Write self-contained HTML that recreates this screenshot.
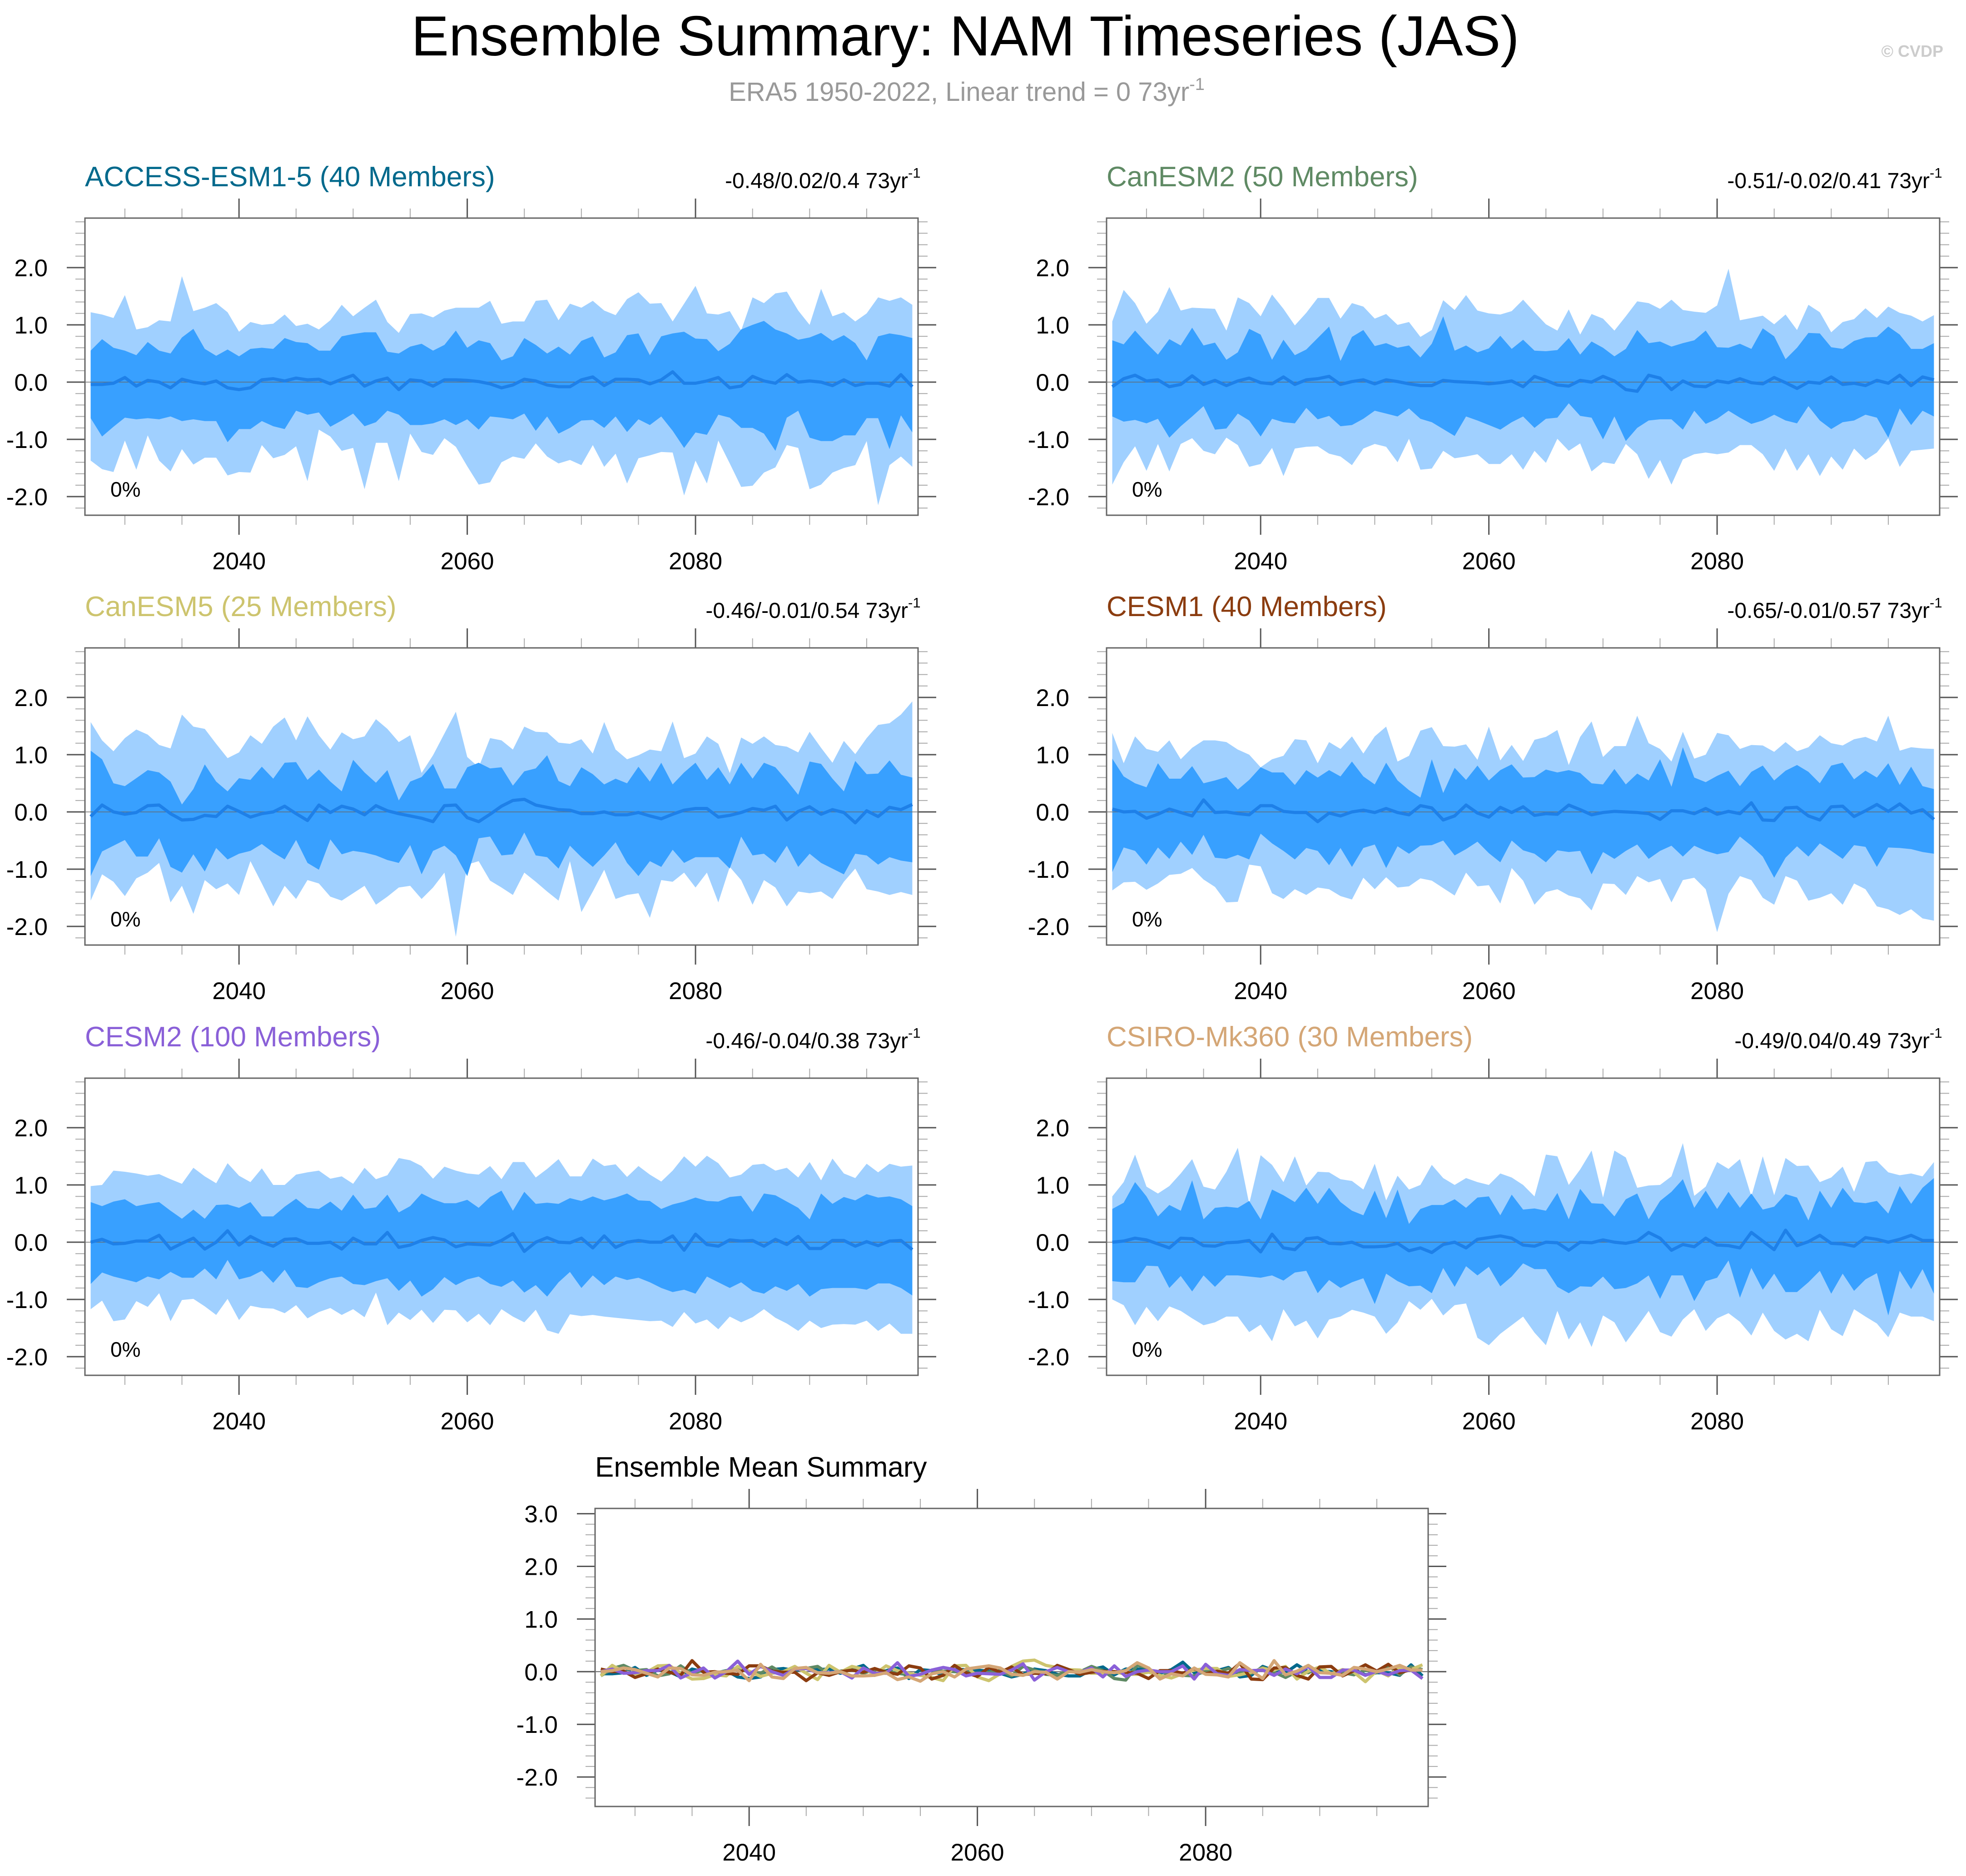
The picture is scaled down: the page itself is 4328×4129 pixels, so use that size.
<!DOCTYPE html>
<html><head><meta charset="utf-8"><title>Ensemble Summary: NAM Timeseries (JAS)</title>
<style>html,body{margin:0;padding:0;background:#fff}svg{display:block}text{font-family:"Liberation Sans",Arial,sans-serif}</style>
</head><body>
<svg id="fig" xmlns="http://www.w3.org/2000/svg" width="4328" height="4129" viewBox="0 0 4328 4129">
<rect width="4328" height="4129" fill="#fff"/>
<text x="2125" y="122" font-size="124" text-anchor="middle" fill="#000">Ensemble Summary: NAM Timeseries (JAS)</text>
<text x="2128" y="222" font-size="58" text-anchor="middle" fill="#999">ERA5 1950-2022, Linear trend = 0 73yr<tspan dy="-24" font-size="38">-1</tspan></text>
<text x="4278" y="125" font-size="36" font-weight="bold" text-anchor="end" fill="#ccc">© CVDP</text>
<g id="panels"></g>
</svg>
<script>
const yearStart = 2027;
const xTickLabels = ["2040","2060","2080"];
const yTickLabels = ["-2.0","-1.0","0.0","1.0","2.0"];
const yTickLabelsMean = ["-2.0","-1.0","0.0","1.0","2.0","3.0"];

const access_hi = [1.22,1.18,1.12,1.52,0.92,0.96,1.08,1.06,1.85,1.24,1.30,1.38,1.22,0.88,1.05,1.00,1.02,1.18,0.98,1.02,0.92,1.08,1.35,1.15,1.30,1.44,1.05,0.86,1.19,1.20,1.13,1.25,1.30,1.30,1.30,1.42,1.02,1.06,1.06,1.42,1.44,1.08,1.37,1.30,1.42,1.25,1.17,1.45,1.57,1.37,1.38,1.06,1.37,1.68,1.20,1.18,1.24,0.90,1.48,1.38,1.55,1.58,1.25,1.00,1.63,1.15,1.22,1.06,1.20,1.48,1.42,1.48,1.35];
const access_uq = [0.55,0.75,0.60,0.55,0.47,0.70,0.55,0.50,0.78,0.93,0.58,0.46,0.57,0.45,0.58,0.60,0.58,0.77,0.70,0.68,0.55,0.55,0.80,0.84,0.87,0.87,0.53,0.50,0.62,0.67,0.55,0.65,0.90,0.60,0.73,0.68,0.38,0.45,0.77,0.65,0.50,0.62,0.48,0.72,0.80,0.43,0.52,0.82,0.85,0.47,0.80,0.85,0.88,0.76,0.75,0.54,0.67,0.92,1.00,1.07,0.92,0.85,0.74,0.78,0.86,0.72,0.82,0.68,0.38,0.80,0.85,0.82,0.77];
const access_mean = [-0.04,-0.04,-0.02,0.08,-0.07,0.03,0.00,-0.10,0.05,0.00,-0.03,0.02,-0.10,-0.13,-0.10,0.04,0.06,0.02,0.07,0.04,0.05,-0.03,0.05,0.12,-0.07,0.02,0.07,-0.13,0.04,0.02,-0.07,0.04,0.04,0.03,0.01,-0.03,-0.10,-0.05,0.05,0.02,-0.05,-0.08,-0.08,0.04,0.09,-0.06,0.05,0.05,0.04,-0.03,0.04,0.18,-0.02,-0.02,0.02,0.08,-0.10,-0.07,0.10,0.02,-0.02,0.13,0.00,0.02,0.00,-0.06,0.04,-0.06,-0.02,-0.02,-0.07,0.13,-0.08];
const access_lq = [-0.63,-0.95,-0.78,-0.62,-0.65,-0.63,-0.65,-0.60,-0.68,-0.65,-0.68,-0.68,-1.05,-0.82,-0.82,-0.68,-0.77,-0.82,-0.50,-0.57,-0.53,-0.78,-0.67,-0.55,-0.77,-0.70,-0.50,-0.57,-0.75,-0.75,-0.72,-0.65,-0.75,-0.65,-0.83,-0.60,-0.62,-0.65,-0.55,-0.85,-0.60,-0.90,-0.80,-0.67,-0.66,-0.80,-0.60,-0.87,-0.65,-0.75,-0.60,-0.85,-1.15,-0.88,-0.92,-0.57,-0.62,-0.80,-0.80,-0.90,-1.20,-0.62,-0.50,-0.97,-1.03,-1.03,-0.93,-0.93,-0.63,-0.63,-1.17,-0.58,-0.88];
const access_lo = [-1.37,-1.52,-1.57,-1.02,-1.53,-0.93,-1.37,-1.56,-1.17,-1.44,-1.32,-1.32,-1.63,-1.57,-1.58,-1.10,-1.33,-1.27,-1.12,-1.73,-0.83,-0.95,-1.20,-1.15,-1.87,-1.06,-1.06,-1.73,-0.90,-1.22,-1.27,-0.98,-1.13,-1.47,-1.79,-1.75,-1.40,-1.30,-1.34,-1.07,-1.30,-1.42,-1.36,-1.45,-1.10,-1.48,-1.25,-1.77,-1.33,-1.28,-1.22,-1.23,-1.98,-1.37,-1.77,-1.02,-1.42,-1.83,-1.81,-1.58,-1.49,-1.10,-1.15,-1.87,-1.79,-1.58,-1.50,-1.45,-1.03,-2.15,-1.45,-1.30,-1.48];

const canesm2_hi = [1.06,1.61,1.38,1.02,1.23,1.66,1.25,1.30,1.29,1.28,0.90,1.48,1.38,1.15,1.53,1.28,0.99,1.21,1.47,1.47,1.11,1.38,1.32,1.11,1.19,1.00,1.05,0.79,0.91,1.43,1.26,1.52,1.25,1.20,1.18,1.24,1.44,1.22,1.01,0.90,1.27,0.83,1.19,1.11,0.90,1.15,1.41,1.38,1.28,1.44,1.26,1.23,1.21,1.34,1.98,1.08,1.12,1.16,1.01,1.18,0.91,1.35,1.22,0.87,1.05,1.10,1.29,1.12,1.32,1.21,1.16,1.06,1.17];
const canesm2_uq = [0.73,0.66,0.90,0.68,0.48,0.75,0.64,0.95,0.64,0.69,0.39,0.52,0.93,0.83,0.39,0.74,0.47,0.57,0.77,0.97,0.37,0.79,0.91,0.63,0.68,0.60,0.64,0.43,0.67,1.15,0.55,0.64,0.52,0.59,0.81,0.58,0.74,0.55,0.54,0.56,0.77,0.48,0.71,0.60,0.45,0.58,0.91,0.68,0.71,0.62,0.68,0.73,0.90,0.61,0.60,0.67,0.58,0.94,0.80,0.40,0.60,0.86,0.85,0.61,0.58,0.72,0.78,0.79,0.97,0.83,0.58,0.58,0.68];
const canesm2_mean = [-0.08,0.06,0.12,0.02,0.04,-0.08,-0.04,0.11,-0.04,0.03,-0.06,0.02,0.07,-0.01,-0.03,0.09,-0.04,0.04,0.06,0.10,-0.04,0.01,0.04,-0.03,0.04,0.01,-0.03,-0.06,-0.06,0.03,0.01,0.00,-0.01,-0.03,-0.01,0.02,-0.08,0.10,0.03,-0.05,-0.07,0.03,0.00,0.10,0.02,-0.13,-0.16,0.12,0.07,-0.13,0.02,-0.07,-0.08,0.02,-0.01,0.06,-0.01,-0.03,0.08,-0.01,-0.11,0.00,-0.02,0.09,-0.04,-0.02,-0.06,0.03,-0.02,0.12,-0.06,0.09,0.04];
const canesm2_lq = [-0.60,-0.69,-0.66,-0.72,-0.64,-0.97,-0.77,-0.60,-0.42,-0.83,-0.81,-0.55,-0.67,-0.95,-0.64,-0.70,-0.72,-0.45,-0.65,-0.59,-0.77,-0.75,-0.64,-0.50,-0.55,-0.60,-0.46,-0.64,-0.70,-0.82,-0.94,-0.60,-0.67,-0.75,-0.83,-0.70,-0.60,-0.80,-0.64,-0.62,-0.37,-0.59,-0.62,-1.00,-0.60,-1.03,-0.80,-0.67,-0.65,-0.65,-0.83,-0.50,-0.73,-0.64,-0.50,-0.62,-0.73,-0.67,-0.57,-0.67,-0.72,-0.42,-0.67,-0.82,-0.70,-0.67,-0.57,-0.62,-0.97,-0.46,-0.75,-0.50,-0.60];
const canesm2_lo = [-1.79,-1.40,-1.12,-1.55,-1.08,-1.56,-1.08,-0.98,-1.20,-1.26,-0.97,-1.10,-1.48,-1.43,-1.15,-1.64,-1.16,-1.13,-1.12,-1.25,-1.30,-1.45,-1.16,-1.08,-1.13,-1.40,-0.99,-1.53,-1.51,-1.20,-1.33,-1.30,-1.26,-1.43,-1.43,-1.26,-1.53,-1.20,-1.41,-0.99,-1.20,-1.07,-1.56,-1.40,-1.43,-1.08,-1.26,-1.69,-1.36,-1.79,-1.35,-1.26,-1.23,-1.26,-1.23,-1.10,-1.10,-1.26,-1.55,-1.16,-1.55,-1.26,-1.64,-1.30,-1.53,-1.16,-1.36,-1.23,-0.98,-1.48,-1.20,-1.18,-1.16];

const canesm5_hi = [1.57,1.25,1.06,1.29,1.44,1.35,1.17,1.11,1.70,1.49,1.45,1.19,0.94,1.04,1.34,1.19,1.49,1.65,1.25,1.67,1.34,1.09,1.39,1.27,1.32,1.62,1.45,1.22,1.34,0.68,0.99,1.37,1.75,0.96,0.78,1.29,1.25,1.09,1.49,1.40,1.39,1.21,1.19,1.27,1.02,1.57,1.09,0.92,0.99,1.09,1.06,1.58,0.94,1.02,1.32,1.19,0.68,1.30,1.19,1.32,1.17,1.14,1.04,1.40,1.12,0.86,1.24,1.01,1.29,1.52,1.55,1.70,1.93];
const canesm5_uq = [1.07,0.92,0.50,0.45,0.59,0.73,0.69,0.53,0.13,0.40,0.83,0.53,0.36,0.59,0.56,0.79,0.58,0.86,0.87,0.56,0.74,0.53,0.36,0.91,0.69,0.51,0.73,0.20,0.53,0.61,0.84,0.41,0.41,0.78,0.86,0.76,0.78,0.46,0.71,0.76,0.99,0.54,0.45,0.78,0.66,0.48,0.58,0.50,0.79,0.53,0.86,0.48,0.69,0.86,0.56,0.78,0.48,0.86,0.58,0.86,0.78,0.55,0.30,0.88,0.84,0.58,0.36,0.89,0.66,0.67,0.90,0.65,0.60];
const canesm5_mean = [-0.08,0.12,0.00,-0.04,-0.01,0.11,0.12,-0.03,-0.14,-0.13,-0.06,-0.08,0.10,0.01,-0.09,-0.03,0.00,0.10,-0.03,-0.15,0.12,-0.01,0.10,0.05,-0.05,0.11,0.02,-0.03,-0.07,-0.11,-0.17,0.11,0.12,-0.10,-0.17,-0.04,0.10,0.20,0.22,0.12,0.08,0.04,0.03,-0.03,-0.03,0.00,-0.05,-0.05,-0.01,-0.07,-0.12,-0.04,0.03,0.06,0.06,-0.09,-0.06,-0.01,0.06,0.03,0.10,-0.14,0.01,0.09,-0.04,0.04,-0.01,-0.19,0.02,-0.08,0.08,0.04,0.13];
const canesm5_lq = [-1.12,-0.69,-0.59,-0.49,-0.78,-0.78,-0.46,-0.96,-1.06,-0.74,-1.04,-0.63,-0.83,-0.73,-0.68,-0.56,-0.71,-0.83,-0.49,-0.89,-1.01,-0.48,-0.74,-0.68,-0.71,-0.76,-0.84,-0.89,-0.58,-1.09,-0.68,-0.59,-0.76,-1.12,-0.46,-0.43,-0.76,-0.74,-0.36,-0.76,-0.79,-0.99,-0.59,-0.79,-0.96,-0.76,-0.53,-0.89,-1.12,-0.86,-0.96,-0.66,-0.89,-0.79,-0.79,-0.79,-0.99,-0.43,-0.76,-0.73,-0.89,-0.59,-0.96,-0.73,-0.89,-0.99,-1.09,-0.73,-0.76,-0.92,-0.79,-0.85,-0.88];
const canesm5_lo = [-1.55,-1.09,-1.22,-1.47,-1.16,-1.06,-0.89,-1.58,-1.29,-1.78,-1.19,-1.35,-1.25,-1.45,-0.86,-1.25,-1.65,-1.29,-1.52,-1.19,-1.25,-1.48,-1.55,-1.42,-1.29,-1.62,-1.48,-1.32,-1.29,-1.52,-1.32,-1.06,-2.18,-0.92,-0.86,-1.20,-1.32,-1.45,-1.06,-1.22,-1.39,-1.55,-0.86,-1.75,-1.39,-1.01,-1.52,-1.45,-1.42,-1.85,-1.19,-1.22,-1.06,-1.32,-1.06,-1.58,-0.96,-1.19,-1.62,-1.19,-1.32,-1.65,-1.39,-1.42,-1.39,-1.52,-1.22,-0.99,-1.35,-1.39,-1.45,-1.40,-1.45];

const cesm1_hi = [1.38,0.85,1.32,1.10,1.05,1.25,0.92,1.12,1.25,1.25,1.22,1.09,1.00,0.78,0.92,0.98,1.27,1.25,0.85,1.22,1.10,1.32,1.02,1.32,1.49,0.88,0.98,1.42,1.48,1.15,1.14,1.18,0.91,1.49,0.90,1.17,0.89,1.26,1.31,1.43,0.82,1.31,1.58,0.96,1.15,1.15,1.68,1.20,1.10,0.88,1.40,0.93,1.00,1.38,1.34,1.10,1.17,1.16,1.05,1.22,1.06,1.13,1.34,1.20,1.16,1.27,1.31,1.23,1.68,1.07,1.13,1.11,1.10];
const cesm1_uq = [0.93,0.62,0.50,0.43,0.85,0.58,0.58,0.80,0.50,0.55,0.61,0.39,0.56,0.78,0.69,0.69,0.47,0.73,0.60,0.73,0.62,0.88,0.62,0.48,0.86,0.55,0.38,0.25,0.92,0.33,0.77,0.56,0.81,0.55,0.73,0.83,0.60,0.61,0.74,0.69,0.73,0.68,0.50,0.48,0.75,0.48,0.67,0.55,0.92,0.44,1.13,0.60,0.52,0.63,0.72,0.45,0.70,0.81,0.55,0.72,0.82,0.70,0.50,0.81,0.86,0.57,0.72,0.60,0.85,0.47,0.79,0.45,0.40];
const cesm1_mean = [0.05,0.00,0.01,-0.11,-0.04,0.05,-0.01,-0.07,0.21,-0.01,0.00,-0.03,-0.05,0.11,0.11,0.01,-0.01,-0.01,-0.17,-0.02,-0.07,0.00,0.03,-0.01,0.06,-0.01,-0.05,0.11,0.07,-0.14,-0.07,0.12,-0.02,-0.09,0.08,-0.01,0.09,-0.06,-0.03,-0.04,0.12,0.04,-0.05,-0.01,0.01,0.00,-0.01,-0.03,-0.13,0.02,0.02,-0.03,0.06,-0.04,0.01,-0.03,0.16,-0.14,-0.15,0.07,0.08,-0.07,-0.14,0.09,0.10,-0.08,0.02,0.13,0.01,0.14,-0.02,0.04,-0.13];
const cesm1_lq = [-1.05,-0.62,-0.68,-0.92,-0.62,-0.82,-0.52,-0.75,-0.40,-0.80,-0.82,-0.75,-0.83,-0.38,-0.55,-0.68,-0.83,-0.63,-0.68,-0.93,-0.63,-0.96,-0.63,-0.57,-0.98,-0.60,-0.73,-0.59,-0.58,-0.50,-0.76,-0.65,-0.52,-0.72,-0.88,-0.50,-0.67,-0.73,-0.88,-0.67,-0.70,-0.68,-1.09,-0.70,-0.82,-0.68,-0.57,-0.82,-0.68,-0.59,-0.78,-0.59,-0.68,-0.74,-0.70,-0.43,-0.59,-0.78,-1.15,-0.80,-0.60,-0.78,-0.55,-0.68,-0.82,-0.58,-0.61,-0.96,-0.62,-0.63,-0.65,-0.70,-0.73];
const cesm1_lo = [-1.37,-1.23,-1.22,-1.36,-1.25,-1.10,-1.08,-0.98,-1.18,-1.31,-1.58,-1.57,-0.92,-0.95,-1.42,-1.52,-1.35,-1.45,-1.32,-1.35,-1.47,-1.53,-1.15,-1.35,-1.14,-1.32,-1.30,-1.16,-1.20,-1.33,-1.46,-1.06,-1.30,-1.28,-1.60,-0.98,-1.20,-1.62,-1.40,-1.35,-1.46,-1.51,-1.72,-1.25,-1.26,-1.45,-1.12,-1.23,-1.17,-1.58,-1.19,-1.15,-1.35,-2.10,-1.43,-1.12,-1.19,-1.50,-1.62,-1.12,-1.20,-1.55,-1.50,-1.42,-1.62,-1.25,-1.35,-1.65,-1.70,-1.80,-1.70,-1.86,-1.90];

const cesm2_hi = [0.98,1.00,1.25,1.23,1.20,1.16,1.19,1.10,1.02,1.30,1.15,1.03,1.38,1.16,1.05,1.29,1.00,1.00,1.18,1.22,1.25,1.11,1.15,1.02,1.30,1.10,1.17,1.47,1.43,1.33,1.11,1.32,1.25,1.20,1.18,1.33,1.10,1.40,1.40,1.13,1.28,1.45,1.15,1.15,1.46,1.33,1.36,1.14,1.33,1.18,1.06,1.25,1.50,1.32,1.51,1.38,1.13,1.18,1.35,1.37,1.25,1.30,1.13,1.40,1.08,1.46,1.20,1.12,1.37,1.22,1.37,1.32,1.34];
const cesm2_uq = [0.70,0.63,0.71,0.75,0.63,0.67,0.70,0.55,0.41,0.57,0.41,0.65,0.66,0.60,0.70,0.45,0.45,0.62,0.76,0.60,0.58,0.71,0.55,0.83,0.58,0.61,0.83,0.52,0.63,0.85,0.75,0.68,0.68,0.74,0.60,0.79,0.90,0.55,0.88,0.67,0.69,0.67,0.77,0.72,0.80,0.73,0.78,0.85,0.73,0.72,0.58,0.66,0.71,0.78,0.72,0.71,0.79,0.81,0.53,0.85,0.82,0.71,0.60,0.40,0.85,0.67,0.79,0.73,0.84,0.78,0.80,0.75,0.63];
const cesm2_mean = [0.00,0.05,-0.03,-0.02,0.02,0.02,0.12,-0.12,-0.02,0.07,-0.12,0.00,0.20,-0.05,0.10,0.00,-0.07,0.05,0.06,-0.02,-0.02,0.00,-0.12,0.07,-0.03,-0.03,0.17,-0.09,-0.05,0.03,0.08,0.04,-0.08,-0.03,-0.04,-0.05,0.03,0.15,-0.16,0.00,0.08,0.00,-0.01,0.07,-0.10,0.11,-0.09,0.00,0.03,0.00,0.00,0.11,-0.14,0.14,-0.04,-0.07,0.04,0.02,0.03,-0.07,0.05,-0.04,0.10,-0.11,-0.11,0.03,0.03,-0.07,0.01,-0.06,0.02,0.03,-0.13];
const cesm2_lq = [-0.73,-0.53,-0.60,-0.65,-0.70,-0.60,-0.65,-0.52,-0.62,-0.62,-0.46,-0.65,-0.31,-0.65,-0.60,-0.50,-0.71,-0.48,-0.78,-0.80,-0.70,-0.63,-0.60,-0.73,-0.75,-0.68,-0.63,-0.85,-0.67,-0.95,-0.82,-0.61,-0.75,-0.65,-0.60,-0.73,-0.78,-0.67,-0.88,-0.75,-0.95,-0.70,-0.52,-0.80,-0.58,-0.75,-0.60,-0.66,-0.62,-0.70,-0.80,-0.87,-0.83,-0.90,-0.60,-0.70,-0.80,-0.70,-0.85,-0.90,-0.77,-0.85,-0.73,-0.95,-0.82,-0.80,-0.80,-0.80,-0.83,-0.72,-0.72,-0.80,-0.93];
const cesm2_lo = [-1.17,-1.02,-1.38,-1.35,-1.03,-1.13,-0.89,-1.38,-1.01,-0.99,-1.12,-1.27,-0.99,-1.36,-1.11,-1.15,-1.16,-1.24,-1.10,-1.33,-1.22,-1.15,-1.27,-1.17,-1.31,-0.88,-1.45,-1.23,-1.36,-1.18,-1.41,-1.18,-1.19,-1.40,-1.25,-1.45,-1.17,-1.30,-1.40,-1.18,-1.54,-1.60,-1.26,-1.29,-1.27,-1.30,-1.32,-1.34,-1.36,-1.38,-1.37,-1.48,-1.22,-1.42,-1.35,-1.52,-1.30,-1.40,-1.31,-1.17,-1.32,-1.42,-1.55,-1.37,-1.50,-1.44,-1.43,-1.44,-1.37,-1.55,-1.42,-1.60,-1.60];

const csiro_hi = [0.80,1.05,1.53,0.97,0.85,0.98,1.20,1.45,0.97,0.92,1.23,1.65,0.67,1.52,1.35,1.05,1.50,0.99,1.23,1.22,1.10,1.07,0.92,1.37,0.73,1.16,0.92,1.00,1.35,1.12,1.00,1.12,1.05,1.00,1.20,1.13,1.00,0.80,1.53,1.50,1.00,1.27,1.60,0.78,1.60,1.48,0.95,0.99,1.00,1.15,1.73,0.81,0.97,1.40,1.28,1.45,0.80,1.50,0.82,1.47,1.33,1.34,1.05,1.13,1.32,0.88,1.40,1.42,1.22,1.17,1.20,1.15,1.40];
const csiro_uq = [0.58,0.69,1.05,0.80,0.45,0.65,0.55,1.08,0.40,0.60,0.62,0.60,0.72,0.40,0.92,0.82,0.70,0.95,0.67,0.95,0.70,0.55,0.47,0.90,0.42,0.92,0.32,0.58,0.65,0.65,0.75,0.60,0.78,0.80,0.47,0.83,0.57,0.59,0.55,0.86,0.40,0.93,0.68,0.67,0.45,0.75,0.85,0.40,0.72,0.88,1.10,0.60,0.90,0.58,0.88,0.60,0.85,0.57,0.62,0.84,0.78,0.38,0.90,0.60,0.95,0.70,0.68,0.72,0.50,0.98,0.67,0.95,1.12];
const csiro_mean = [0.00,0.02,0.07,0.04,-0.03,-0.10,0.07,0.06,-0.06,-0.07,-0.01,0.00,0.03,-0.17,0.14,-0.10,-0.13,0.06,0.08,-0.02,-0.03,0.00,-0.08,-0.08,-0.07,-0.02,-0.15,-0.10,-0.18,-0.04,0.00,-0.10,0.05,0.08,0.11,0.07,-0.05,-0.07,0.00,-0.01,-0.14,0.00,-0.01,0.04,0.00,-0.02,0.02,0.17,0.07,-0.14,-0.04,-0.08,0.07,-0.05,-0.06,-0.10,0.17,0.02,-0.13,0.21,-0.06,0.01,0.12,-0.02,-0.03,-0.07,0.08,0.05,0.00,0.05,0.12,0.03,0.03];
const csiro_lq = [-0.68,-0.70,-0.70,-0.41,-0.42,-0.80,-0.59,-0.86,-0.58,-0.78,-0.58,-0.58,-0.60,-0.62,-0.58,-0.67,-0.53,-0.50,-0.89,-0.66,-0.80,-0.70,-0.63,-1.08,-0.55,-0.68,-0.77,-0.76,-0.89,-0.45,-0.78,-0.42,-0.58,-0.43,-0.77,-0.60,-0.37,-0.47,-0.47,-0.78,-0.89,-0.77,-0.78,-0.60,-0.82,-0.80,-0.72,-0.58,-0.99,-0.58,-0.58,-1.03,-0.68,-0.62,-0.32,-0.97,-0.45,-0.83,-0.55,-0.87,-0.87,-0.70,-0.50,-0.90,-0.55,-0.85,-0.65,-0.54,-1.28,-0.50,-0.82,-0.47,-0.90];
const csiro_lo = [-1.00,-1.10,-1.45,-1.13,-1.38,-1.12,-1.20,-1.33,-1.45,-1.40,-1.30,-1.30,-1.57,-1.44,-1.73,-1.17,-1.47,-1.37,-1.68,-1.35,-1.30,-1.18,-1.23,-1.30,-1.60,-1.40,-1.03,-1.18,-0.99,-1.28,-1.10,-1.07,-1.67,-1.80,-1.60,-1.45,-1.30,-1.58,-1.80,-1.20,-1.70,-1.40,-1.83,-1.28,-1.40,-1.75,-1.48,-1.20,-1.57,-1.65,-1.35,-1.17,-1.55,-1.33,-1.24,-1.39,-1.63,-1.23,-1.55,-1.70,-1.60,-1.73,-1.18,-1.52,-1.64,-1.17,-1.30,-1.42,-1.66,-1.23,-1.30,-1.30,-1.38];

const modelNames = ["ACCESS-ESM1-5 (40 Members)","CanESM2 (50 Members)","CanESM5 (25 Members)","CESM1 (40 Members)","CESM2 (100 Members)","CSIRO-Mk360 (30 Members)"];
const trendStats = ["-0.48/0.02/0.4 73yr","-0.51/-0.02/0.41 73yr","-0.46/-0.01/0.54 73yr","-0.65/-0.01/0.57 73yr","-0.46/-0.04/0.38 73yr","-0.49/0.04/0.49 73yr"];

const NS = "http://www.w3.org/2000/svg";
const root = document.getElementById("panels");
function mk(tag, attrs, parent){ const e=document.createElementNS(NS,tag); for(const k in attrs) e.setAttribute(k,attrs[k]); (parent||root).appendChild(e); return e; }

const models = [
  {key:"access", hi:access_hi, uq:access_uq, mean:access_mean, lq:access_lq, lo:access_lo, color:"#00698c"},
  {key:"canesm2", hi:canesm2_hi, uq:canesm2_uq, mean:canesm2_mean, lq:canesm2_lq, lo:canesm2_lo, color:"#5f8a64"},
  {key:"canesm5", hi:canesm5_hi, uq:canesm5_uq, mean:canesm5_mean, lq:canesm5_lq, lo:canesm5_lo, color:"#cdc46e"},
  {key:"cesm1", hi:cesm1_hi, uq:cesm1_uq, mean:cesm1_mean, lq:cesm1_lq, lo:cesm1_lo, color:"#8b3c0f"},
  {key:"cesm2", hi:cesm2_hi, uq:cesm2_uq, mean:cesm2_mean, lq:cesm2_lq, lo:cesm2_lo, color:"#8a60d8"},
  {key:"csiro", hi:csiro_hi, uq:csiro_uq, mean:csiro_mean, lq:csiro_lq, lo:csiro_lo, color:"#d4a676"}
];

const X0 = 2026.5, X1 = 2099.5;

function axes(g, L, T, R, B, ymin, ymax, yLabels, yMinorFrom, yMinorTo){
  const sx = v => L + (v - X0) / (X1 - X0) * (R - L);
  const sy = v => B - (v - ymin) / (ymax - ymin) * (B - T);
  for (let k = Math.round(yMinorFrom*5); k <= Math.round(yMinorTo*5); k++) {
    const v = k/5, y = sy(v), major = (k % 5 === 0);
    const len = major ? 40 : 21, col = major ? "#555" : "#aaa";
    mk("line",{x1:L-len,x2:L,y1:y,y2:y,stroke:col,"stroke-width":major?3:2},g);
    mk("line",{x1:R,x2:R+len,y1:y,y2:y,stroke:col,"stroke-width":major?3:2},g);
  }
  yLabels.forEach(t => {
    const el = mk("text",{x:L-82,y:sy(parseFloat(t))+19,"font-size":53,"text-anchor":"end",fill:"#000"},g);
    el.textContent = t;
    
    
  });
  for (let yr = 2030; yr <= 2095; yr += 5) {
    const x = sx(yr), major = (yr % 20 === 0);
    const len = major ? 43 : 21, col = major ? "#555" : "#aaa";
    mk("line",{x1:x,x2:x,y1:T-len,y2:T,stroke:col,"stroke-width":major?3:2},g);
    mk("line",{x1:x,x2:x,y1:B,y2:B+len,stroke:col,"stroke-width":major?3:2},g);
  }
  xTickLabels.forEach(t => {
    const el = mk("text",{x:sx(parseFloat(t)),y:B+119,"font-size":53,"text-anchor":"middle",fill:"#000"},g);
    el.textContent = t;
    
    
  });
  return {sx, sy};
}

function bandPath(sx, sy, up, dn){
  let d = "";
  up.forEach((v,i)=>{ d += (i?"L":"M") + sx(yearStart+i).toFixed(1) + "," + sy(v).toFixed(1); });
  for (let i = dn.length-1; i >= 0; i--) d += "L" + sx(yearStart+i).toFixed(1) + "," + sy(dn[i]).toFixed(1);
  return d + "Z";
}
function linePath(sx, sy, arr){
  return arr.map((v,i)=>(i?"L":"M")+sx(yearStart+i).toFixed(1)+","+sy(v).toFixed(1)).join("");
}

const colsL = [187, 2436], width = 1834, rowsT = [480, 1426, 2373], height = 654;
models.forEach((m, idx) => {
  const L = colsL[idx % 2], T = rowsT[Math.floor(idx/2)], R = L + width, B = T + height;
  const g = mk("g",{});
  
  
  const {sx, sy} = axes(g, L, T, R, B, -2.325, 2.865, yTickLabels, -2.2, 2.8);
  const light = mk("path",{d:bandPath(sx,sy,m.hi,m.lo),fill:"#a0d0ff"},g);
  
  
  const dark = mk("path",{d:bandPath(sx,sy,m.uq,m.lq),fill:"#38a0ff"},g);
  
  
  const z = mk("line",{x1:L,x2:R,y1:sy(0),y2:sy(0),stroke:"#666","stroke-width":2,"stroke-opacity":0.7},g);
  
  
  const ml = mk("path",{d:linePath(sx,sy,m.mean),fill:"none",stroke:"#1e80e8","stroke-width":7,"stroke-linejoin":"round"},g);
  
  
  const box = mk("rect",{x:L,y:T,width:width,height:height,fill:"none",stroke:"#666","stroke-width":3},g);
  
  
  const title = mk("text",{x:L,y:T-70,"font-size":62,fill:m.color},g);
  title.textContent = modelNames[idx];
  
  
  const st = mk("text",{x:R-22,y:T-66,"font-size":48,"text-anchor":"end",fill:"#000"},g);
  st.textContent = trendStats[idx];
  
  
  const sup = mk("text",{x:R-22,y:T-89,"font-size":31,fill:"#000"},g);
  sup.textContent = "-1";
  
  
  const pct = mk("text",{x:L+56,y:sy(-2)+0,"font-size":46,fill:"#000"},g);
  pct.textContent = "0%";
  
  
});

(function(){
  const L = 1310, T = 3320, R = 3144, B = 3976;
  const g = mk("g",{});
  
  
  const {sx, sy} = axes(g, L, T, R, B, -2.56, 3.1, yTickLabelsMean, -2.4, 3.0);
  const z = mk("line",{x1:L,x2:R,y1:sy(0),y2:sy(0),stroke:"#666","stroke-width":2},g);
  
  
  models.forEach(m => {
    const p = mk("path",{d:linePath(sx,sy,m.mean),fill:"none",stroke:m.color,"stroke-width":7,"stroke-linejoin":"round"},g);
    
    
  });
  const box = mk("rect",{x:L,y:T,width:R-L,height:B-T,fill:"none",stroke:"#666","stroke-width":3},g);
  
  
  const t = mk("text",{x:L,y:T-70,"font-size":62,fill:"#000"},g);
  t.textContent = "Ensemble Mean Summary";
  
  
})();
</script>
</body></html>
